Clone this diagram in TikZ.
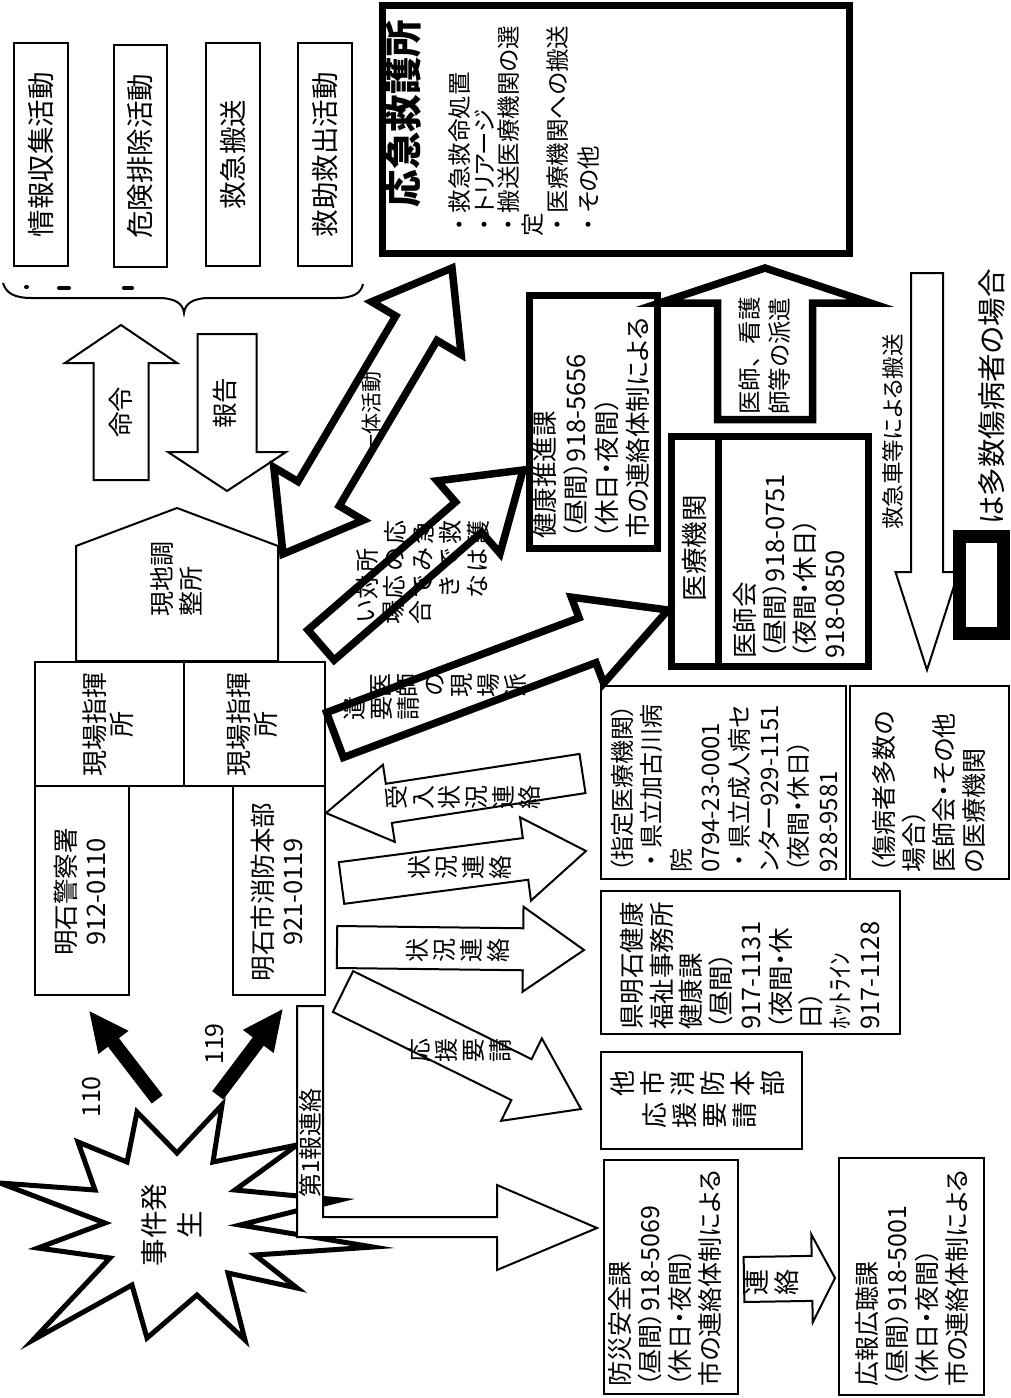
\documentclass[tikz,border=0pt]{standalone}
\usepackage{fontspec}
\setmainfont{Noto Sans CJK JP}[RawFeature=+palt]
\newfontfamily\fullw{Noto Sans CJK JP}
\usetikzlibrary{calc,fit}

\newcommand\setfs[2]{\fontsize{#1}{#2}\selectfont}
\newcommand\bul{{\fullw ・}}
% block arrow: style, tail, tip, half shaft, half head, head length
\newcommand\blockarrow[6]{%
  \coordinate (bh) at ($(#3)!#6!(#2)$);
  \draw[#1] ($(#2)!#4!90:(#3)$) -- ($(bh)!#4!-90:(#2)$) -- ($(bh)!#5!-90:(#2)$) -- (#3)
    -- ($(bh)!#5!90:(#2)$) -- ($(bh)!#4!90:(#2)$) -- ($(#2)!#4!-90:(#3)$) -- cycle;}
% double block arrow: style, end a, end b, half shaft, half head, head length
\newcommand\dblarrow[6]{%
  \coordinate (ba) at ($(#2)!#6!(#3)$);
  \coordinate (bb) at ($(#3)!#6!(#2)$);
  \draw[#1] (#2) -- ($(ba)!#5!90:(#3)$) -- ($(ba)!#4!90:(#3)$) -- ($(bb)!#4!-90:(#2)$)
    -- ($(bb)!#5!-90:(#2)$) -- (#3) -- ($(bb)!#5!90:(#2)$) -- ($(bb)!#4!90:(#2)$)
    -- ($(ba)!#4!-90:(#3)$) -- ($(ba)!#5!-90:(#3)$) -- cycle;}

\begin{document}
\begin{tikzpicture}[x=0.5pt, y=-0.5pt,
  lbox/.style={draw, line width=1pt, inner sep=0pt},
  hbox/.style={draw, line width=3.5pt, inner sep=0pt},
  larr/.style={draw, fill=white, line width=1pt, line join=miter},
  harr/.style={draw, fill=white, line width=3.75pt, line join=miter},
  barr/.style={fill=black},
  mid/.style={rotate=90, inner sep=0pt, align=center},
  txt/.style={rotate=90, inner sep=0pt, align=left, anchor=west},
  tate/.style={rotate=90, inner sep=0pt, align=center, font=\setfs{12}{13.5}}
]
\fill[white] (0,0) rectangle (1011,1398);
\useasboundingbox (0,0) rectangle (1011,1398);

% ---------------------------------------------------------------- activities
\node[lbox, fit={(14,43) (68,266)}] (act1) {};
\node[lbox, fit={(114,45) (167,267)}] (act2) {};
\node[lbox, fit={(206,43) (260,266)}] (act3) {};
\node[lbox, fit={(298,43) (352,266)}] (act4) {};
\node[mid, font=\setfs{13.75}{16}] (act1-t) at (act1) {情報収集活動};
\node[mid, font=\setfs{13.75}{16}] (act2-t) at (act2) {危険排除活動};
\node[mid, font=\setfs{13.75}{16}] (act3-t) at (act3) {救急搬送};
\node[mid, font=\setfs{13.75}{16}] (act4-t) at (act4) {救助救出活動};

% brace under the activities
\draw[line width=1pt] (3,283) .. controls (6,293) and (14,298) .. (32,298) -- (158,298)
  .. controls (176,298) and (183,304) .. (184,313) .. controls (185,304) and (192,298) .. (210,298)
  -- (336,298) .. controls (354,298) and (361,293) .. (363,284);
\draw[line width=2pt, line cap=round] (26,287) -- (27,287) (59,288) -- (69,288) (124,288) -- (132,288);

% order / report
\coordinate (meirei-s) at (121,480);
\coordinate (meirei-e) at (121,325);
\blockarrow{larr}{meirei-s}{meirei-e}{13.75pt}{28pt}{19pt}
\node[mid, font=\setfs{12.75}{15}] (meirei-t) at (121,412) {命令};
\coordinate (hokoku-s) at (227,334);
\coordinate (hokoku-e) at (227,491);
\blockarrow{larr}{hokoku-s}{hokoku-e}{14.75pt}{29.5pt}{19.5pt}
\node[mid, font=\setfs{12.75}{15}] (hokoku-t) at (225,403) {報告};

% ---------------------------------------------------------------- command posts
\draw[line width=1pt] (76,661) -- (76,546) -- (177,508) -- (278,546) -- (278,661) -- cycle;
\node[txt, font=\setfs{12.5}{14.5}] (chosei) at (176.5,617) {現地調\\整所};
\node[lbox, fit={(35,662) (184,786)}] (genbaL) {};
\node[lbox, fit={(184,662) (325,786)}] (genbaR) {};
\node[lbox, fit={(35,786) (129,995)}] (police) {};
\node[lbox, fit={(233,786) (325,995)}] (fire) {};
\node[mid, font=\setfs{13}{13.5}] (genbaL-t) at (108,724) {現場指揮\\所};
\node[mid, font=\setfs{13}{13.5}] (genbaR-t) at (252,724) {現場指揮\\所};
\node[mid, font=\setfs{12.75}{15}] (police-t) at (80,892) {明石警察署\\912-0110};
\node[mid, font=\setfs{12.75}{15}] (fire-t) at (277,892) {明石市消防本部\\921-0119};

% ---------------------------------------------------------------- incident
\draw[line width=2.5pt, line join=miter, fill=white] (137,1112) -- (127,1162) -- (78,1142) -- (95,1190)
  -- (0,1183) -- (105,1223) -- (38,1248) -- (110,1258) -- (33,1340) -- (132,1285) -- (147,1338)
  -- (197,1295) -- (245,1340) -- (228,1273) -- (297,1288) -- (255,1255) -- (373,1247) -- (240,1225)
  -- (340,1200) -- (235,1190) -- (297,1145) -- (213,1162) -- (222,1105) -- (177,1153) -- cycle;
\node[mid, font=\setfs{13.75}{18}] (jiken) at (172,1225) {事件発\\生};

% first report
\draw[larr] (297,1006) -- (323,1006) -- (323,1217) -- (497,1217) -- (497,1185) -- (597,1228)
  -- (497,1270) -- (497,1237) -- (297,1237) -- cycle;
\node[mid, font=\setfs{12}{14}] (daiippo) at (310,1143) {第1報連絡};

% 110 / 119
\coordinate (a110-s) at (157,1099);
\coordinate (a110-e) at (90,1012);
\blockarrow{barr}{a110-s}{a110-e}{3.25pt}{9.2pt}{19pt}
\coordinate (a119-s) at (218,1095);
\coordinate (a119-e) at (282,1010);
\blockarrow{barr}{a119-s}{a119-e}{3.25pt}{9.3pt}{19.5pt}
\node[mid, font=\setfs{12.5}{14}] (a110-t) at (92,1097) {110};
\node[mid, font=\setfs{12.5}{14}] (a119-t) at (215,1044) {119};

% ---------------------------------------------------------------- fire HQ contacts
\coordinate (ukeire-s) at (582.5,773.5);
\coordinate (ukeire-e) at (326,813);
\blockarrow{larr}{ukeire-s}{ukeire-e}{9.9pt}{19.5pt}{31.8pt}
\node[tate, font=\setfs{12}{13.35}] (ukeire-t) at (463,797) {受\\入\\状\\況\\連\\絡};
\coordinate (jokyo1-s) at (341.5,883);
\coordinate (jokyo1-e) at (586,851);
\blockarrow{larr}{jokyo1-s}{jokyo1-e}{10.5pt}{21pt}{30.5pt}
\node[tate] (jokyo1-t) at (460,867) {状\\況\\連\\絡};
\coordinate (jokyo2-s) at (337,947);
\coordinate (jokyo2-e) at (584,950);
\blockarrow{larr}{jokyo2-s}{jokyo2-e}{10.5pt}{21.25pt}{30.5pt}
\node[tate] (jokyo2-t) at (458,950) {状\\況\\連\\絡};
\coordinate (oen-s) at (343,991.5);
\coordinate (oen-e) at (581,1109);
\blockarrow{larr}{oen-s}{oen-e}{11.4pt}{23pt}{33.2pt}
\node[tate] (oen-t) at (460,1050) {応\\援\\要\\請};

% ---------------------------------------------------------------- heavy arrows
\coordinate (ittai-a) at (283,554);
\coordinate (ittai-b) at (452,268);
\dblarrow{harr}{ittai-a}{ittai-b}{12pt}{26pt}{35pt}
\node[mid, font=\setfs{10.5}{12}] (ittai-t) at (372,413) {一体活動};
\coordinate (nomi-s) at (321,645);
\coordinate (nomi-e) at (523,470);
\blockarrow{harr}{nomi-s}{nomi-e}{10pt}{24pt}{36pt}
\node[tate, font=\setfs{12}{13.75}] (nomi-r1) at (437,532) {応\\急\\救\\護};
\node[tate, font=\setfs{12}{13.75}] (nomi-r2) at (422,560) {所\\の\\み\\で\\は};
\node[tate, font=\setfs{12}{13.75}] (nomi-r3) at (422,587) {対\\応\\で\\き\\な};
\node[tate, font=\setfs{12}{13.75}] (nomi-r4) at (395,612) {い\\場\\合};
\coordinate (yosei-s) at (335,735);
\coordinate (yosei-e) at (668,610);
\blockarrow{harr}{yosei-s}{yosei-e}{12pt}{23pt}{43pt}
\node[tate] (yosei-r1) at (448.5,685) {医\\師\\の\\現\\場\\派};
\node[tate] (yosei-r2) at (381,708) {遣\\要\\請};
\coordinate (haken-s) at (765,419.5);
\coordinate (haken-e) at (765,268);
\blockarrow{harr}{haken-s}{haken-e}{23.75pt}{52.75pt}{17.5pt}
\node[txt, font=\setfs{11.75}{15}] (haken-t) at (765,415) {医師{\fullw 、}看護\\師等の派遣};

% ---------------------------------------------------------------- first aid station
\node[hbox, fit={(382.5,5.5) (849.5,253.5)}] (kyugo) {};
\node[mid, font=\bfseries\setfs{18.75}{20}] (kyugo-t) at (403,113.5) {応急救護所};
\node[txt, font=\setfs{11.75}{12.15}] (kyugo-items) at (524,237)
  {\bul 救急救命処置\\\bul トリアージ\\\bul 搬送医療機関の選\\定\\\bul 医療機関への搬送\\[3.3pt]\bul その他};

% ---------------------------------------------------------------- medical side
\node[hbox, fit={(529.5,295.5) (657.5,548.5)}] (kenko) {};
\node[txt, font=\setfs{12.75}{15.5}] (kenko-t) at (591,539)
  {健康推進課\\（昼間）918-5656\\（休日・夜間）\\市の連絡体制による};
\node[hbox, fit={(671.5,436.5) (868.5,666.5)}] (iryo) {};
\coordinate (iryo-div) at (718,0);
\draw[line width=3.5pt] (iryo.north -| iryo-div) -- (iryo.south -| iryo-div);
\node[mid, font=\setfs{13.25}{15}] (iryo-t) at (694,548) {医療機関};
\node[txt, font=\setfs{12.75}{15}] (ishikai-t) at (789,659)
  {医師会\\（昼間）918-0751\\（夜間・休日）\\918-0850};

\coordinate (hanso-s) at (927,273);
\coordinate (hanso-e) at (927,670);
\blockarrow{larr}{hanso-s}{hanso-e}{8pt}{15.75pt}{49pt}
\node[mid, font=\setfs{11.25}{13}] (hanso-t) at (893,432) {救急車等による搬送};

% legend
\node[draw, line width=6.5pt, inner sep=0pt, fit={(959.5,536.5) (1003.5,633.5)}] (legend) {};
\node[mid, font=\setfs{14.25}{16}] (legend-t) at (992,397) {は多数傷病者の場合};

\node[lbox, fit={(601,686) (846,879)}] (shitei) {};
\node[txt, font=\setfs{12}{14.7}] (shitei-t) at (724,873)
  {（指定医療機関）\\\bul 県立加古川病\\院\\0794-23-0001\\\bul 県立成人病セ\\ンター929-1151\\（夜間・休日）\\928-9581};
\node[lbox, fit={(850,686) (1009,879)}] (tasu) {};
\node[txt, font=\setfs{12.5}{15}] (tasu-t) at (929,873)
  {（傷病者多数の\\場合）\\医師会・その他\\の医療機関};
\node[lbox, fit={(601,891) (900,1034)}] (fukushi) {};
\node[txt, font=\setfs{12.75}{14.9}] (fukushi-t) at (750,1030)
  {県明石健康\\福祉事務所\\健康課\\（昼間）\\917-1131\\（夜間・休\\日）\\ﾎｯﾄﾗｲﾝ\\917-1128};
\node[lbox, fit={(601,1052) (802,1149)}] (tashi) {};
\node[tate, font=\setfs{13}{15}] (tashi-r1) at (698,1083) {他\\市\\消\\防\\本\\部};
\node[tate, font=\setfs{13}{15}] (tashi-r2) at (700,1115) {応\\援\\要\\請};

% ---------------------------------------------------------------- city offices
\node[lbox, fit={(604,1160) (738,1394)}] (bosai) {};
\node[txt, font=\setfs{12.5}{14.9}] (bosai-t) at (665,1387)
  {防災安全課\\（昼間）918-5069\\（休日・夜間）\\市の連絡体制による};
\coordinate (renraku-s) at (744,1279.5);
\coordinate (renraku-e) at (835,1278);
\blockarrow{larr}{renraku-s}{renraku-e}{11.25pt}{22pt}{11.5pt}
\node[tate, font=\setfs{13}{15}] (renraku-t) at (772,1282) {連\\絡};
\node[lbox, fit={(839,1158) (984,1395)}] (koho) {};
\node[txt, font=\setfs{12.5}{14.85}] (koho-t) at (912,1387)
  {広報広聴課\\（昼間）918-5001\\（休日・夜間）\\市の連絡体制による};
\end{tikzpicture}
\end{document}
